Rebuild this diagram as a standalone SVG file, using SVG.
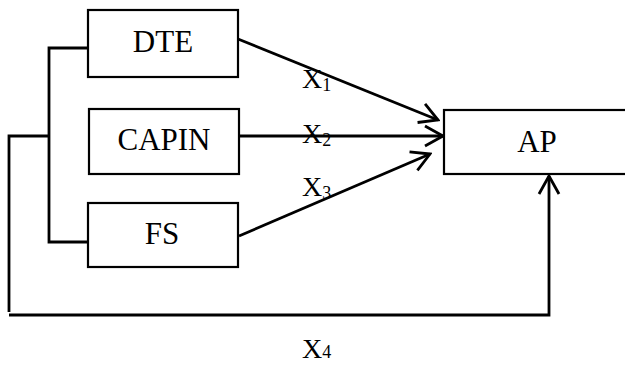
<svg xmlns="http://www.w3.org/2000/svg" width="625" height="367" viewBox="0 0 625 367">
  <style>
    .box { fill: #fff; stroke: #000; stroke-width: 2.2; }
    .lbl { font-family: "Liberation Serif", "Times New Roman", serif; font-size: 31px; fill: #000; text-anchor: middle; }
    .var { font-family: "Liberation Serif", "Times New Roman", serif; font-size: 28px; fill: #000; }
    .sub { font-size: 18px; }
    .wire { fill: none; stroke: #000; stroke-width: 2.8; }
  </style>
  <defs>
    <marker id="open-arrow" markerUnits="userSpaceOnUse" markerWidth="24" markerHeight="24" viewBox="-22 -12 24 24" refX="0" refY="0" orient="auto">
      <path d="M-18,-10 L0,0 L-18,10" fill="none" stroke="#000" stroke-width="2.8"/>
    </marker>
  </defs>

  <!-- connectors -->
  <g id="connectors">
    <!-- bracket joining DTE and FS -->
    <polyline class="wire" points="88,48 49,48 49,242 88,242"/>
    <!-- feedback path X4 -->
    <polyline class="wire" points="49,136 9,136 9,312"/>
    <polyline class="wire" points="9,315 549,315 549,176" marker-end="url(#open-arrow)"/>
    <!-- inputs to AP -->
    <line class="wire" x1="238" y1="39" x2="438" y2="120" marker-end="url(#open-arrow)"/>
    <line class="wire" x1="239" y1="136" x2="443" y2="136" marker-end="url(#open-arrow)"/>
    <line class="wire" x1="239" y1="236" x2="430" y2="154" marker-end="url(#open-arrow)"/>
  </g>

  <!-- path labels -->
  <g id="labels">
    <text class="var" x="302" y="88">X<tspan class="sub" dy="3">1</tspan></text>
    <text class="var" x="302" y="143">X<tspan class="sub" dy="3">2</tspan></text>
    <text class="var" x="302" y="196">X<tspan class="sub" dy="3">3</tspan></text>
    <text class="var" x="302" y="358">X<tspan class="sub" dy="0">4</tspan></text>
  </g>

  <g id="node-dte">
    <rect class="box" x="88" y="10" width="150" height="67"/>
    <text class="lbl" x="163" y="52">DTE</text>
  </g>
  <g id="node-capin">
    <rect class="box" x="89" y="109" width="150" height="65"/>
    <text class="lbl" x="164" y="150">CAPIN</text>
  </g>
  <g id="node-fs">
    <rect class="box" x="88" y="203" width="150" height="64"/>
    <text class="lbl" x="162" y="244">FS</text>
  </g>
  <g id="node-ap">
    <rect class="box" x="444" y="110" width="200" height="64"/>
    <text class="lbl" x="537" y="152">AP</text>
  </g>
</svg>
